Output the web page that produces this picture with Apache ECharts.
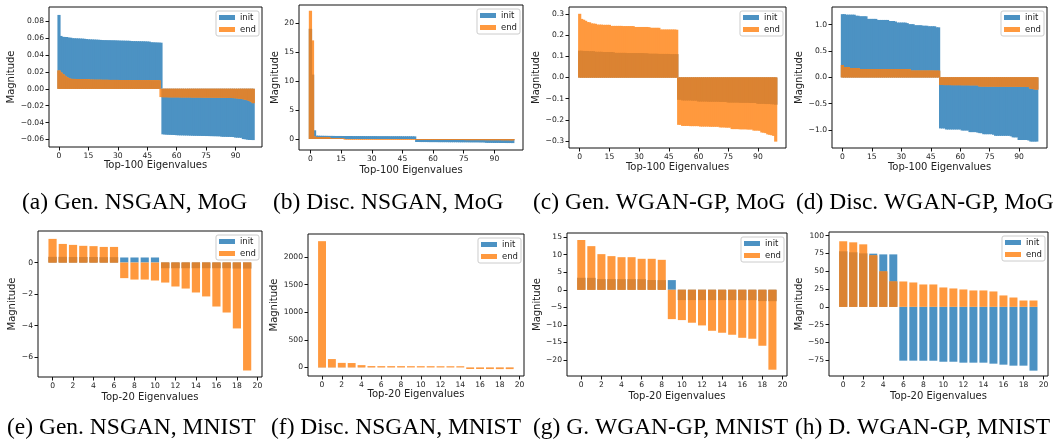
<!DOCTYPE html>
<html>
<head>
<meta charset="utf-8">
<script src="https://cdn.jsdelivr.net/npm/echarts@6/dist/echarts.min.js"></script>
<style>
  html, body { margin: 0; padding: 0; background: #fff; }
  #main { width: 1057px; height: 447px; }
</style>
</head>
<body>
<div id="main"></div>
<script>
// ---- data ----
const seriesNames = ['init', 'end'];

// (a) Gen. NSGAN, MoG  (top-100)
const aInit = [
  0.0876, 0.0627, 0.0616, 0.0615, 0.0614, 0.0607, 0.0606, 0.0600, 0.0599, 0.0598,
  0.0597, 0.0596, 0.0595, 0.0593, 0.0590, 0.0587, 0.0586, 0.0585, 0.0584, 0.0583,
  0.0582, 0.0580, 0.0578, 0.0577, 0.0577, 0.0576, 0.0576, 0.0575, 0.0575, 0.0574,
  0.0573, 0.0572, 0.0571, 0.0571, 0.0570, 0.0570, 0.0569, 0.0566, 0.0565, 0.0565,
  0.0564, 0.0564, 0.0563, 0.0563, 0.0562, 0.0561, 0.0560, 0.0552, 0.0551, 0.0550,
  0.0549, 0.0548, 0.0547, -0.0540, -0.0542, -0.0544, -0.0545, -0.0546, -0.0547, -0.0548,
  -0.0550, -0.0551, -0.0552, -0.0552, -0.0553, -0.0553, -0.0554, -0.0555, -0.0556, -0.0557,
  -0.0557, -0.0558, -0.0558, -0.0559, -0.0559, -0.0560, -0.0560, -0.0561, -0.0561, -0.0562,
  -0.0562, -0.0563, -0.0563, -0.0568, -0.0569, -0.0569, -0.0570, -0.0570, -0.0571, -0.0572,
  -0.0578, -0.0579, -0.0580, -0.0581, -0.0596, -0.0598, -0.0603, -0.0606, -0.0607, -0.0608
];
const aEnd = [
  0.0217, 0.0193, 0.0174, 0.0154, 0.0138, 0.0126, 0.0118, 0.0117, 0.0117, 0.0116,
  0.0116, 0.0115, 0.0115, 0.0114, 0.0114, 0.0113, 0.0108, 0.0108, 0.0107, 0.0107,
  0.0107, 0.0107, 0.0106, 0.0106, 0.0106, 0.0106, 0.0105, 0.0105, 0.0105, 0.0105,
  0.0105, 0.0104, 0.0104, 0.0104, 0.0104, 0.0104, 0.0103, 0.0103, 0.0103, 0.0103,
  0.0103, 0.0103, 0.0102, 0.0102, 0.0102, 0.0102, 0.0102, 0.0101, 0.0101, 0.0101,
  0.0101, 0.0100, -0.0098, -0.0099, -0.0099, -0.0099, -0.0100, -0.0100, -0.0100, -0.0100,
  -0.0100, -0.0100, -0.0101, -0.0101, -0.0101, -0.0101, -0.0101, -0.0101, -0.0102, -0.0102,
  -0.0102, -0.0102, -0.0102, -0.0102, -0.0103, -0.0103, -0.0103, -0.0103, -0.0103, -0.0104,
  -0.0104, -0.0104, -0.0104, -0.0105, -0.0105, -0.0106, -0.0107, -0.0108, -0.0109, -0.0110,
  -0.0111, -0.0113, -0.0116, -0.0119, -0.0123, -0.0128, -0.0134, -0.0142, -0.0152, -0.0170
];

// (b) Disc. NSGAN, MoG  (top-100)
const bInit = [
  19.0, 11.1, 1.5, 0.58, 0.56, 0.55, 0.55, 0.54, 0.54, 0.53,
  0.53, 0.53, 0.52, 0.52, 0.52, 0.52, 0.51, 0.51, 0.51, 0.51,
  0.51, 0.50, 0.50, 0.50, 0.50, 0.50, 0.50, 0.49, 0.49, 0.49,
  0.49, 0.49, 0.49, 0.48, 0.48, 0.48, 0.48, 0.48, 0.48, 0.47,
  0.47, 0.47, 0.47, 0.47, 0.47, 0.46, 0.46, 0.46, 0.46, 0.46,
  0.45, 0.45, -0.52, -0.52, -0.53, -0.53, -0.53, -0.53, -0.54, -0.54,
  -0.54, -0.54, -0.54, -0.55, -0.55, -0.55, -0.55, -0.55, -0.56, -0.56,
  -0.56, -0.56, -0.56, -0.57, -0.57, -0.57, -0.57, -0.57, -0.58, -0.58,
  -0.58, -0.58, -0.58, -0.59, -0.59, -0.59, -0.66, -0.67, -0.67, -0.67,
  -0.68, -0.68, -0.68, -0.69, -0.69, -0.69, -0.70, -0.70, -0.70, -0.71
];
const bEnd = [
  22.1, 17.0, 0.42, 0.34, 0.32, 0.31, 0.30, 0.30, 0.29, 0.29,
  0.12, 0.11, 0.11, 0.10, 0.10, 0.10, 0.09, -0.12, -0.12, -0.13,
  -0.13, -0.13, -0.13, -0.13, -0.14, -0.14, -0.14, -0.14, -0.14, -0.14,
  -0.14, -0.14, -0.15, -0.15, -0.15, -0.15, -0.15, -0.15, -0.15, -0.15,
  -0.15, -0.15, -0.15, -0.16, -0.16, -0.16, -0.16, -0.16, -0.16, -0.16,
  -0.16, -0.16, -0.16, -0.16, -0.17, -0.17, -0.17, -0.17, -0.17, -0.17,
  -0.17, -0.17, -0.17, -0.17, -0.17, -0.18, -0.18, -0.18, -0.18, -0.18,
  -0.18, -0.18, -0.18, -0.18, -0.18, -0.18, -0.19, -0.19, -0.19, -0.19,
  -0.19, -0.19, -0.19, -0.19, -0.19, -0.19, -0.20, -0.20, -0.20, -0.20,
  -0.20, -0.20, -0.20, -0.20, -0.21, -0.21, -0.21, -0.21, -0.22, -0.22
];

// (c) Gen. WGAN-GP, MoG  (top-100)
const cInit = [
  0.126, 0.126, 0.125, 0.125, 0.125, 0.124, 0.124, 0.124, 0.121, 0.121,
  0.121, 0.121, 0.120, 0.120, 0.120, 0.120, 0.120, 0.119, 0.116, 0.116,
  0.116, 0.116, 0.116, 0.116, 0.115, 0.115, 0.115, 0.115, 0.115, 0.115,
  0.115, 0.115, 0.115, 0.114, 0.114, 0.112, 0.112, 0.112, 0.112, 0.112,
  0.111, 0.111, 0.111, 0.111, 0.111, 0.111, 0.110, 0.110, 0.110, 0.110,
  -0.105, -0.105, -0.108, -0.108, -0.108, -0.108, -0.108, -0.109, -0.109, -0.109,
  -0.113, -0.113, -0.113, -0.113, -0.113, -0.114, -0.114, -0.114, -0.114, -0.114,
  -0.114, -0.115, -0.115, -0.115, -0.115, -0.118, -0.118, -0.118, -0.118, -0.118,
  -0.118, -0.119, -0.119, -0.119, -0.119, -0.119, -0.120, -0.120, -0.120, -0.120,
  -0.124, -0.124, -0.124, -0.124, -0.125, -0.125, -0.125, -0.126, -0.126, -0.128
];
const cEnd = [
  0.300, 0.276, 0.272, 0.267, 0.261, 0.260, 0.255, 0.254, 0.253, 0.249,
  0.249, 0.249, 0.248, 0.248, 0.248, 0.248, 0.243, 0.243, 0.243, 0.243,
  0.243, 0.243, 0.242, 0.242, 0.242, 0.242, 0.242, 0.242, 0.238, 0.238,
  0.238, 0.238, 0.238, 0.238, 0.238, 0.237, 0.234, 0.234, 0.234, 0.234,
  0.234, 0.226, 0.226, 0.226, 0.226, 0.226, 0.226, 0.226, 0.226, 0.225,
  -0.223, -0.223, -0.228, -0.228, -0.228, -0.228, -0.229, -0.229, -0.229, -0.229,
  -0.229, -0.231, -0.231, -0.231, -0.231, -0.231, -0.232, -0.232, -0.232, -0.232,
  -0.232, -0.235, -0.235, -0.235, -0.236, -0.236, -0.236, -0.243, -0.243, -0.243,
  -0.243, -0.244, -0.244, -0.244, -0.244, -0.245, -0.245, -0.245, -0.250, -0.250,
  -0.250, -0.251, -0.259, -0.260, -0.262, -0.268, -0.270, -0.272, -0.275, -0.302
];

// (d) Disc. WGAN-GP, MoG  (top-100)
const dInit = [
  1.20, 1.20, 1.19, 1.19, 1.19, 1.19, 1.19, 1.17, 1.17, 1.16,
  1.16, 1.16, 1.16, 1.11, 1.11, 1.11, 1.11, 1.11, 1.09, 1.09,
  1.09, 1.09, 1.09, 1.09, 1.07, 1.07, 1.07, 1.06, 1.04, 1.04,
  1.04, 1.04, 1.04, 1.03, 1.01, 1.01, 1.01, 0.99, 0.99, 0.99,
  0.99, 0.98, 0.98, 0.98, 0.97, 0.97, 0.97, 0.97, 0.95, 0.95,
  -0.97, -0.97, -0.97, -0.99, -0.99, -0.99, -0.99, -0.99, -0.99, -0.99,
  -0.99, -1.01, -1.01, -1.01, -1.01, -1.04, -1.04, -1.04, -1.04, -1.05,
  -1.06, -1.06, -1.08, -1.08, -1.08, -1.08, -1.08, -1.09, -1.11, -1.11,
  -1.11, -1.11, -1.11, -1.11, -1.11, -1.11, -1.12, -1.14, -1.14, -1.14,
  -1.19, -1.19, -1.19, -1.19, -1.19, -1.20, -1.22, -1.22, -1.22, -1.22
];
const dEnd = [
  0.234, 0.196, 0.195, 0.195, 0.177, 0.177, 0.176, 0.176, 0.176, 0.158,
  0.158, 0.158, 0.158, 0.158, 0.158, 0.158, 0.158, 0.158, 0.158, 0.158,
  0.157, 0.157, 0.157, 0.157, 0.157, 0.157, 0.157, 0.157, 0.157, 0.157,
  0.157, 0.157, 0.156, 0.156, 0.156, 0.127, 0.127, 0.127, 0.127, 0.127,
  0.127, 0.127, 0.127, 0.127, 0.127, 0.127, 0.127, 0.126, 0.126, 0.126,
  -0.146, -0.146, -0.147, -0.147, -0.147, -0.147, -0.148, -0.148, -0.148, -0.148,
  -0.148, -0.149, -0.149, -0.149, -0.149, -0.150, -0.150, -0.150, -0.150, -0.151,
  -0.172, -0.173, -0.173, -0.173, -0.174, -0.174, -0.174, -0.174, -0.175, -0.175,
  -0.175, -0.175, -0.175, -0.176, -0.176, -0.176, -0.176, -0.177, -0.177, -0.177,
  -0.178, -0.178, -0.179, -0.180, -0.182, -0.185, -0.215, -0.222, -0.228, -0.232
];

// (e) Gen. NSGAN, MNIST  (top-20)
const eInit = [0.36, 0.36, 0.35, 0.35, 0.35, 0.34, 0.34, 0.32, 0.32, 0.32,
  0.32, -0.36, -0.36, -0.36, -0.36, -0.36, -0.36, -0.36, -0.38, -0.38];
const eEnd = [1.50, 1.18, 1.12, 1.06, 1.04, 0.99, 0.99, -0.99, -1.08, -1.08,
  -1.14, -1.27, -1.52, -1.65, -1.90, -2.15, -2.79, -3.17, -4.18, -6.84];

// (f) Disc. NSGAN, MNIST  (top-20)
const fInit = [2.5, 1.8, 1.5, 1.2, 1.0, 0.9, 0.8, 0.7, 0.6, 0.5,
  -0.5, -0.6, -0.7, -0.8, -0.9, -1.0, -1.1, -1.2, -1.4, -1.6];
const fEnd = [2290, 152, 83, 80, 42, 25, 24, 24, 24, 23,
  23, 23, 22, 22, 22, -28, -28, -29, -30, -30];

// (g) G. WGAN-GP, MNIST  (top-20)
const gInit = [3.42, 3.40, 3.04, 3.04, 3.03, 3.03, 3.02, 2.78, 2.76, 2.76,
  -2.95, -2.95, -2.95, -2.96, -2.96, -2.96, -2.97, -2.97, -3.23, -3.25];
const gEnd = [14.2, 12.45, 10.17, 9.6, 9.3, 9.3, 8.84, 8.84, 8.55, -8.37,
  -8.65, -9.4, -10.17, -11.7, -12.26, -12.83, -13.7, -13.97, -15.97, -22.8];

// (h) D. WGAN-GP, MNIST  (top-20)
const hInit = [77.9, 76.5, 75.0, 74.6, 73.6, 73.6, -75.5, -75.5, -75.6, -75.6,
  -77.0, -77.0, -78.3, -78.3, -78.3, -79.7, -81.1, -82.5, -82.5, -89.5];
const hEnd = [92, 90.5, 87.7, 72.2, 49.7, 35.6, 35.6, 34.2, 31.4, 31.4,
  27.2, 25.8, 24.4, 23.0, 23.0, 21.6, 16.0, 13.1, 8.9, 8.9];

// tick labels
const xTicks100 = [0, 15, 30, 45, 60, 75, 90];
const xTicks20 = [0, 2, 4, 6, 8, 10, 12, 14, 16, 18, 20];
const aTicks = [-0.06, -0.04, -0.02, 0, 0.02, 0.04, 0.06, 0.08];
const bTicks = [0, 5, 10, 15, 20];
const cTicks = [-0.3, -0.2, -0.1, 0, 0.1, 0.2, 0.3];
const dTicks = [-1.0, -0.5, 0, 0.5, 1.0];
const eTicks = [-6, -4, -2, 0];
const fTicks = [0, 500, 1000, 1500, 2000];
const gTicks = [-20, -15, -10, -5, 0, 5, 10, 15];
const hTicks = [-75, -50, -25, 0, 25, 50, 75, 100];

const captions = [
  '(a) Gen. NSGAN, MoG', '(b) Disc. NSGAN, MoG', '(c) Gen. WGAN-GP, MoG', '(d) Disc. WGAN-GP, MoG',
  '(e) Gen. NSGAN, MNIST', '(f) Disc. NSGAN, MNIST', '(g) G. WGAN-GP, MNIST', '(h) D. WGAN-GP, MNIST'
];

// ---- layout (pixel boxes: left, top, right, bottom; caption: left x, middle y) ----
const panels = [
  { init: aInit, end: aEnd, yTicks: aTicks, dec: 2, box: [49, 7, 262, 147], x: [-5.1, 103.5], y: [-0.069, 0.097], yGap: 31, xGap: 13, cap: [22, 203] },
  { init: bInit, end: bEnd, yTicks: bTicks, dec: 0, box: [299, 5, 523, 150], x: [-5.6, 104.0], y: [-1.9, 23.1], yGap: 17, xGap: 15, cap: [273, 203] },
  { init: cInit, end: cEnd, yTicks: cTicks, dec: 1, box: [569, 7, 786, 148], x: [-5.4, 104.2], y: [-0.332, 0.332], yGap: 26, xGap: 14, cap: [533, 203] },
  { init: dInit, end: dEnd, yTicks: dTicks, dec: 1, box: [832, 7, 1047, 148], x: [-5.3, 104.2], y: [-1.342, 1.336], yGap: 27, xGap: 14, cap: [796, 203] },
  { init: eInit, end: eEnd, yTicks: eTicks, dec: 0, box: [38, 231, 262, 377], x: [-1.42, 20.45], y: [-7.26, 2.0], yGap: 20, xGap: 15, cap: [7, 428] },
  { init: fInit, end: fEnd, yTicks: fTicks, dec: 0, box: [308, 234, 524, 376], x: [-1.42, 20.45], y: [-155, 2420], yGap: 26, xGap: 13, cap: [271, 428] },
  { init: gInit, end: gEnd, yTicks: gTicks, dec: 0, box: [567, 233, 787, 376], x: [-1.42, 20.45], y: [-24.6, 16.2], yGap: 24, xGap: 15, cap: [533, 428] },
  { init: hInit, end: hEnd, yTicks: hTicks, dec: 0, box: [829, 232, 1048, 376], x: [-1.42, 20.45], y: [-97, 105], yGap: 24, xGap: 15, cap: [795, 428] }
];

const W = 1057;
const textColor = '#222';
const tickFont = { fontFamily: 'DejaVu Sans', fontSize: 7.6, color: textColor };
// matplotlib C0/C1 at alpha 0.8 on white, and C1 over C0
const colors = { init: '#4c92c3', end: '#ff993e', both: '#db8332' };
const capFont = '23.5px "Liberation Serif"';

function fmt(v, dec) {
  const s = Math.abs(v).toFixed(dec);
  return (v < -1e-9 ? '\u2212' : '') + s;
}

// the part where the two bars overlap (same sign)
function overlap(a, b) {
  return a.map(function (v, k) {
    const w = b[k];
    if (v * w <= 0) return 0;
    return v > 0 ? Math.min(v, w) : Math.max(v, w);
  });
}

const grid = [], xAxis = [], yAxis = [], legend = [], series = [], graphic = [];

panels.forEach(function (p, i) {
  const [l, t, r, b] = p.box;
  const n = p.init.length;
  const big = n > 50;
  grid.push({
    left: l, top: t, width: r - l, height: b - t,
    show: true, borderColor: '#111', borderWidth: 1, backgroundColor: 'transparent', z: 3
  });
  xAxis.push({
    type: 'value', gridIndex: i, min: p.x[0], max: p.x[1],
    name: big ? 'Top-100 Eigenvalues' : 'Top-20 Eigenvalues',
    nameLocation: 'middle', nameGap: p.xGap,
    nameTextStyle: { fontFamily: 'DejaVu Sans', fontSize: 10, color: textColor },
    axisLine: { show: false, onZero: false },
    axisTick: { show: true, length: 3.5, lineStyle: { color: '#111' }, customValues: big ? xTicks100 : xTicks20 },
    axisLabel: Object.assign({ margin: 5, customValues: big ? xTicks100 : xTicks20 }, tickFont),
    splitLine: { show: false }
  });
  yAxis.push({
    type: 'value', gridIndex: i, min: p.y[0], max: p.y[1],
    name: 'Magnitude', nameLocation: 'middle', nameGap: p.yGap, nameRotate: 90,
    nameTextStyle: { fontFamily: 'DejaVu Sans', fontSize: 10, color: textColor },
    axisLine: { show: false, onZero: false },
    axisTick: { show: true, length: 3.5, lineStyle: { color: '#111' }, customValues: p.yTicks },
    axisLabel: Object.assign({
      margin: 5, customValues: p.yTicks,
      formatter: (function (dec) { return function (v) { return fmt(v, dec); }; })(p.dec)
    }, tickFont),
    splitLine: { show: false }
  });
  legend.push({
    data: seriesNames, orient: 'vertical',
    right: W - r + 3, top: t + 4,
    icon: 'rect', itemWidth: 16, itemHeight: 5, itemGap: 3,
    padding: [2, 3, 2, 3],
    backgroundColor: 'rgba(255,255,255,0.8)', borderColor: '#ccc', borderWidth: 1, borderRadius: 2,
    textStyle: { fontFamily: 'DejaVu Sans', fontSize: 8.5, color: textColor },
    selectedMode: false
  });
  // bar width in pixels: a bit over a full unit for the 100-bar panels (no seams), 0.8 unit otherwise
  const unit = (r - l) / (p.x[1] - p.x[0]);
  const bw = big ? unit + 1.2 : unit * 0.8;
  [['init', p.init, colors.init], ['end', p.end, colors.end], ['overlap', overlap(p.init, p.end), colors.both]]
    .forEach(function (s) {
      series.push({
        name: s[0], type: 'bar', xAxisIndex: i, yAxisIndex: i,
        barWidth: bw, barGap: '-100%',
        itemStyle: { color: s[2] },
        emphasis: { disabled: true },
        data: s[1].map(function (v, k) { return [k, v]; })
      });
    });

  graphic.push({
    type: 'text', x: p.cap[0], y: p.cap[1],
    style: { text: captions[i], fill: '#000', font: capFont, textAlign: 'left', textVerticalAlign: 'middle' }
  });
});

const myChart = echarts.init(document.getElementById('main'));
myChart.setOption({
  animation: false,
  backgroundColor: '#fff',
  grid: grid,
  xAxis: xAxis,
  yAxis: yAxis,
  legend: legend,
  series: series,
  graphic: graphic
});
</script>
</body>
</html>
